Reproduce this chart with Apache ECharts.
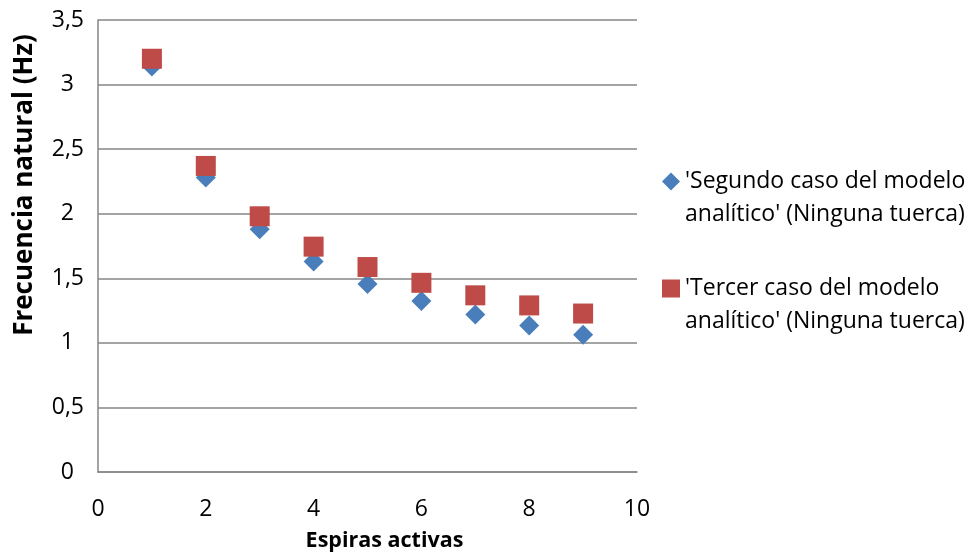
<!DOCTYPE html>
<html>
<head>
<meta charset="utf-8">
<script src="https://cdn.jsdelivr.net/npm/echarts@6/dist/echarts.min.js"></script>
<style>
  html, body { margin: 0; padding: 0; background: #fff; }
  #chart { width: 973px; height: 553px; }
</style>
</head>
<body>
<div id="chart"></div>
<script>
  // espiras activas
  var espiras = [1, 2, 3, 4, 5, 6, 7, 8, 9];
  // frecuencia natural (Hz)
  var segundoCaso = [3.14, 2.28, 1.88, 1.63, 1.455, 1.324, 1.219, 1.135, 1.063];
  var tercerCaso = [3.20, 2.37, 1.98, 1.745, 1.587, 1.465, 1.368, 1.29, 1.227];
  var seriesNames = [
    "'Segundo caso del modelo\nanalítico' (Ninguna tuerca)",
    "'Tercer caso del modelo\nanalítico' (Ninguna tuerca)"
  ];

  function pairs(xs, ys) {
    return xs.map(function (x, i) { return [x, ys[i]]; });
  }

  var font = "Open Sans";
  var gris = "#868686";

  var myChart = echarts.init(document.getElementById("chart"));
  var option = {
    animation: false,
    textStyle: { fontFamily: font },
    grid: { left: 98, right: 336, top: 20, bottom: 81, outerBoundsMode: "none" },
    legend: {
      orient: "vertical",
      left: 662,
      top: 132,
      padding: 0,
      itemWidth: 18,
      itemHeight: 18,
      itemGap: 8,
      data: [
        { name: seriesNames[0], icon: "diamond" },
        { name: seriesNames[1], icon: "rect" }
      ],
      // blank first line so the icon sits beside the first text line
      formatter: function (name) { return " \n" + name; },
      textStyle: {
        fontFamily: font,
        fontSize: 23,
        color: "#000",
        lineHeight: 33
      }
    },
    xAxis: {
      type: "value",
      min: 0,
      max: 10,
      interval: 2,
      name: "Espiras activas",
      nameLocation: "middle",
      nameGap: 58,
      nameTextStyle: {
        fontFamily: font,
        fontSize: 21.5,
        fontWeight: "bold",
        color: "#000",
        padding: [0, 0, 0, 34]
      },
      axisLine: { show: true, lineStyle: { color: gris, width: 1.5 } },
      axisTick: { show: false },
      splitLine: { show: false },
      axisLabel: { fontFamily: font, fontSize: 23, color: "#000", margin: 26 }
    },
    yAxis: {
      type: "value",
      min: 0,
      max: 3.5,
      interval: 0.5,
      name: "Frecuencia natural (Hz)",
      nameLocation: "middle",
      nameGap: 60,
      nameRotate: 90,
      nameTextStyle: {
        fontFamily: font,
        fontSize: 26,
        fontWeight: "bold",
        color: "#000",
        padding: [0, 0, 0, 122]
      },
      axisLine: { show: true, lineStyle: { color: gris, width: 1.5 } },
      axisTick: { show: false },
      splitLine: { show: true, lineStyle: { color: gris, width: 1.5 } },
      axisLabel: {
        fontFamily: font,
        fontSize: 23,
        color: "#000",
        margin: 14,
        formatter: function (v) {
          if (Math.round(v) === v) return "{i|" + v + "}";
          return String(v).replace(".", ",");
        },
        rich: { i: { fontFamily: font, fontSize: 23, color: "#000", padding: [0, 10, 0, 0] } }
      }
    },
    series: [
      {
        name: seriesNames[0],
        type: "scatter",
        symbol: "diamond",
        symbolSize: [20, 20],
        itemStyle: { color: "#4A7EBB", opacity: 1 },
        data: pairs(espiras, segundoCaso)
      },
      {
        name: seriesNames[1],
        type: "scatter",
        symbol: "rect",
        symbolSize: 20,
        itemStyle: { color: "#BE4B48", opacity: 1 },
        data: pairs(espiras, tercerCaso)
      }
    ]
  };
  myChart.setOption(option);
</script>
</body>
</html>
